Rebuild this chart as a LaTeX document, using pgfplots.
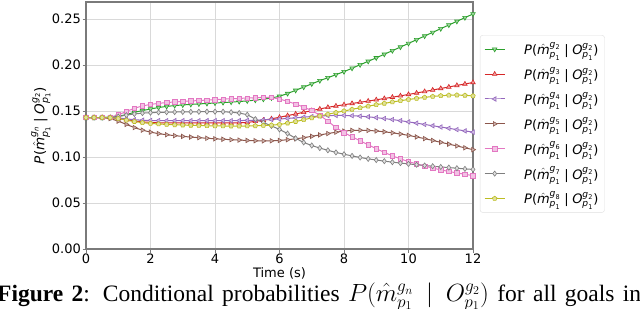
\documentclass[border=0pt]{standalone}
\usepackage{fontspec}
\setmainfont{DejaVu Sans}
\newfontfamily\capfont{Liberation Serif}
\usepackage{amsmath}
\usepackage{pgfplots}
\usepackage{pgfplotstable}
\pgfplotsset{compat=1.18}
\usetikzlibrary{plotmarks}

\definecolor{tgreen}{HTML}{2CA02C}
\definecolor{tred}{HTML}{D62728}
\definecolor{tpurple}{HTML}{9467BD}
\definecolor{tbrown}{HTML}{8C564B}
\definecolor{tpink}{HTML}{E377C2}
\definecolor{tgray}{HTML}{7F7F7F}
\definecolor{tolive}{HTML}{BCBD22}
\definecolor{spine}{HTML}{7A7A7A}

\newcommand{\lgent}[1]{\textit{P}($\hat{\textit{m}}^{\textit{g}_{\text{#1}}}_{\textit{p}_{\text{1}}}$\;|\;$\textit{O}^{\textit{g}_{\text{2}}}_{\textit{p}_{\text{1}}}$)}

\pgfplotstableread{
t g2 g3 g4 g5 g6 g7 g8
0.00 .1429 .1429 .1429 .1429 .1429 .1429 .1429
0.25 .1429 .1429 .1429 .1429 .1429 .1429 .1429
0.50 .1429 .1429 .1429 .1429 .1429 .1429 .1429
0.75 .1431 .1428 .1428 .1418 .1433 .1431 .1427
1.00 .1442 .1420 .1425 .1390 .1458 .1440 .1418
1.25 .1462 .1405 .1415 .1355 .1495 .1455 .1400
1.50 .1485 .1392 .1405 .1320 .1530 .1468 .1385
1.75 .1505 .1382 .1400 .1292 .1555 .1477 .1373
2.00 .1522 .1376 .1397 .1270 .1572 .1482 .1365
2.25 .1538 .1372 .1396 .1254 .1583 .1485 .1359
2.50 .1550 .1370 .1395 .1242 .1592 .1487 .1354
2.75 .1559 .1370 .1395 .1232 .1598 .1489 .1350
3.00 .1566 .1370 .1395 .1224 .1604 .1490 .1347
3.25 .1572 .1370 .1395 .1217 .1609 .1491 .1344
3.50 .1577 .1370 .1395 .1210 .1614 .1492 .1342
3.75 .1582 .1370 .1395 .1204 .1619 .1493 .1340
4.00 .1587 .1370 .1395 .1198 .1624 .1493 .1338
4.25 .1592 .1370 .1395 .1193 .1629 .1492 .1337
4.50 .1597 .1370 .1395 .1188 .1633 .1487 .1336
4.75 .1603 .1372 .1396 .1184 .1637 .1478 .1336
5.00 .1610 .1375 .1398 .1180 .1641 .1460 .1337
5.25 .1618 .1388 .1400 .1177 .1645 .1412 .1339
5.50 .1628 .1400 .1404 .1175 .1648 .1375 .1342
5.75 .1642 .1415 .1408 .1176 .1646 .1338 .1347
6.00 .1660 .1432 .1413 .1180 .1630 .1300 .1353
6.25 .1690 .1450 .1419 .1188 .1605 .1255 .1368
6.50 .1725 .1468 .1426 .1198 .1575 .1203 .1385
6.75 .1760 .1486 .1433 .1210 .1543 .1158 .1405
7.00 .1795 .1504 .1440 .1225 .1505 .1125 .1425
7.25 .1830 .1522 .1446 .1240 .1455 .1097 .1445
7.50 .1862 .1540 .1450 .1255 .1390 .1073 .1465
7.75 .1895 .1555 .1452 .1270 .1320 .1050 .1483
8.00 .1928 .1568 .1452 .1282 .1265 .1030 .1500
8.25 .1965 .1582 .1449 .1289 .1220 .1012 .1518
8.50 .2003 .1595 .1444 .1291 .1175 .0995 .1535
8.75 .2040 .1608 .1437 .1289 .1133 .0980 .1552
9.00 .2078 .1622 .1428 .1283 .1090 .0967 .1568
9.25 .2117 .1636 .1418 .1274 .1050 .0955 .1583
9.50 .2156 .1650 .1407 .1263 .1013 .0944 .1598
9.75 .2195 .1665 .1395 .1250 .0980 .0934 .1612
10.00 .2235 .1680 .1382 .1235 .0950 .0925 .1625
10.25 .2275 .1696 .1368 .1218 .0925 .0916 .1637
10.50 .2315 .1712 .1354 .1200 .0902 .0908 .1648
10.75 .2355 .1728 .1340 .1180 .0880 .0900 .1658
11.00 .2395 .1745 .1326 .1160 .0860 .0892 .1666
11.25 .2435 .1761 .1312 .1140 .0843 .0885 .1671
11.50 .2475 .1778 .1298 .1120 .0827 .0878 .1673
11.75 .2515 .1794 .1284 .1100 .0812 .0871 .1670
12.00 .2555 .1810 .1270 .1080 .0798 .0865 .1664
}\datatable

\begin{document}
\begin{tikzpicture}
\useasboundingbox (0,0) rectangle (640pt,308pt);
\begin{axis}[
  at={(86pt,59pt)}, anchor=south west,
  scale only axis, width=387pt, height=247pt,
  xmin=0, xmax=12, ymin=0, ymax=0.2685,
  xtick={0,2,4,6,8,10,12},
  ytick={0,0.05,0.1,0.15,0.2,0.25},
  /pgf/number format/assume math mode=true,
  yticklabel style={/pgf/number format/fixed, /pgf/number format/fixed zerofill, /pgf/number format/precision=2, inner sep=1.5pt},
  ticklabel style={font=\fontsize{13}{15}\selectfont},
  xticklabel style={inner sep=1pt},
  tick align=outside, xtick pos=left, ytick pos=left,
  major tick length=3.5pt,
  tick style={spine, line width=0.8pt},
  axis line style={spine, line width=1.1pt},
  grid=major, grid style={gray!30, line width=0.8pt},
  xlabel={Time (s)},
  xlabel style={font=\fontsize{13}{15}\selectfont, at={(axis description cs:0.5,-0.097)}, anchor=center},
  ylabel={\textit{P}($\hat{\textit{m}}^{\textit{g}_{\textit{n}}}_{\textit{p}_{\text{1}}}$\;|\;$\textit{O}^{\textit{g}_{\text{2}}}_{\textit{p}_{\text{1}}}$)},
  ylabel style={font=\fontsize{13.5}{16}\selectfont, at={(axis description cs:-0.117,0.5)}, anchor=center},
  legend style={at={(1.018,0.866)}, anchor=north west, draw=gray!25, rounded corners=2.5pt,
    font=\fontsize{13}{15}\selectfont, row sep=7pt, column sep=17pt, inner xsep=4pt, inner ysep=5pt},
  legend cell align=left,
  legend image code/.code={\draw[mark repeat=2,mark phase=2] plot coordinates {(0pt,0pt)(10pt,0pt)(20pt,0pt)};},
  every axis plot/.append style={line width=1pt, mark size=2.6pt},
]
\addplot[tgreen, mark=triangle*, mark options={rotate=180, fill=tgreen!45, draw=tgreen, line width=0.6pt}] table[x=t,y=g2] {\datatable};
\addlegendentry{\lgent{2}}
\addplot[tred, mark=triangle*, mark options={fill=tred!45, draw=tred, line width=0.6pt}] table[x=t,y=g3] {\datatable};
\addlegendentry{\lgent{3}}
\addplot[tpurple, mark=triangle*, mark options={rotate=90, fill=tpurple!45, draw=tpurple, line width=0.6pt}] table[x=t,y=g4] {\datatable};
\addlegendentry{\lgent{4}}
\addplot[tbrown, mark=triangle*, mark options={rotate=-90, fill=tbrown!45, draw=tbrown, line width=0.6pt}] table[x=t,y=g5] {\datatable};
\addlegendentry{\lgent{5}}
\addplot[tpink, mark=square*, mark options={fill=tpink!45, draw=tpink, line width=0.6pt, scale=0.85}] table[x=t,y=g6] {\datatable};
\addlegendentry{\lgent{6}}
\addplot[tgray, mark=diamond*, mark options={fill=tgray!25, draw=tgray, line width=0.6pt}] table[x=t,y=g7] {\datatable};
\addlegendentry{\lgent{7}}
\addplot[tolive, mark=pentagon*, mark options={fill=tolive!45, draw=tolive, line width=0.6pt, scale=0.9}] table[x=t,y=g8] {\datatable};
\addlegendentry{\lgent{8}}
\end{axis}
\node[anchor=base west, inner sep=0pt] at (-3pt,7pt) {\capfont\fontsize{23.5}{28}\selectfont\makebox[644pt][s]{\textbf{Figure 2}: Conditional probabilities $P(\hat{m}^{g_n}_{p_1} \mid O^{g_2}_{p_1})$ for all goals in}};
\end{tikzpicture}
\end{document}
